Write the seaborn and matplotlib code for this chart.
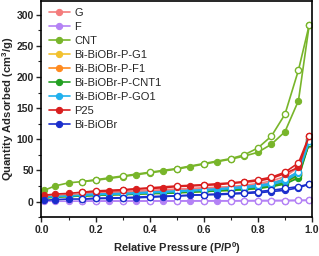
import numpy as np
import matplotlib
matplotlib.use('Agg')
import matplotlib.pyplot as plt
import seaborn as sns
from matplotlib.ticker import MultipleLocator

sns.set_style('ticks')
plt.rcParams['font.family'] = ['Liberation Sans', 'DejaVu Sans']
plt.rcParams['mathtext.fontset'] = 'custom'
plt.rcParams['mathtext.rm'] = 'Liberation Sans'
plt.rcParams['mathtext.bf'] = 'Liberation Sans:bold'

# 흡착(adsorption) / 탈착(desorption) 상대압력
p_ads = [0.01, 0.05, 0.10, 0.15, 0.20, 0.25, 0.30, 0.35, 0.40, 0.45, 0.50,
         0.55, 0.60, 0.65, 0.70, 0.75, 0.80, 0.85, 0.90, 0.95, 0.99]
p_des = [0.99, 0.95, 0.90, 0.85, 0.80, 0.75, 0.70, 0.60, 0.50, 0.40, 0.30, 0.20, 0.15]

names = ['G', 'F', 'CNT', 'Bi-BiOBr-P-G1', 'Bi-BiOBr-P-F1', 'Bi-BiOBr-P-CNT1',
         'Bi-BiOBr-P-GO1', 'P25', 'Bi-BiOBr']
colors = ['#F47C7C', '#B482F5', '#78B52A', '#F2C12E', '#FF8A1E', '#22A022',
          '#1FB0EE', '#D91E1E', '#1A2ECC']

g_ads = [8, 10, 11, 12, 13, 14, 15, 16, 17, 18, 19, 20, 21, 22, 23, 25, 27, 30, 36, 48, 92]
g_des = [92, 55, 40, 33, 29, 26, 24, 22, 20, 18, 16, 14, 13]
f_ads = [0.5, 0.5, 0.5, 0.6, 0.6, 0.7, 0.7, 0.8, 0.8, 0.9, 0.9, 1.0, 1.0, 1.1,
         1.1, 1.2, 1.3, 1.4, 1.5, 1.7, 2.0]
f_des = [2.0, 1.8, 1.6, 1.5, 1.4, 1.3, 1.2, 1.1, 1.0, 0.9, 0.8, 0.7, 0.6]
cnt_ads = [18, 25, 30, 32, 34, 37, 40, 43, 46, 49, 52, 56, 60, 64, 68, 73, 79, 92, 112, 162, 284]
cnt_des = [284, 211, 140, 105, 86, 75, 69, 61, 53, 47, 41, 35, 32]
g1_ads = [5, 7, 8, 9, 10, 11, 11, 12, 13, 13, 14, 15, 16, 17, 18, 19, 21, 24, 29, 40, 95]
g1_des = [95, 44, 32, 26, 23, 21, 19, 17, 15, 13, 12, 10, 9]
f1_ads = [6, 8, 9, 10, 11, 12, 12, 13, 14, 14, 15, 16, 17, 18, 19, 20, 22, 25, 30, 42, 100]
f1_des = [100, 46, 34, 28, 24, 22, 20, 18, 16, 14, 13, 11, 10]
cnt1_ads = [6, 7, 8, 9, 10, 11, 11, 12, 13, 13, 14, 15, 16, 17, 18, 19, 21, 24, 28, 38, 94]
cnt1_des = [94, 43, 31, 26, 23, 21, 19, 17, 15, 13, 12, 10, 9]
go1_ads = [7, 8, 9, 10, 11, 12, 12, 13, 14, 15, 16, 17, 18, 19, 21, 22, 24, 27, 33, 46, 97]
go1_des = [97, 48, 36, 29, 26, 24, 22, 19, 17, 15, 13, 12, 11]
p25_ads = [10, 12, 13, 15, 16, 17, 18, 20, 21, 22, 24, 25, 26, 27, 29, 31, 33, 37, 45, 55, 106]
p25_des = [106, 62, 47, 39, 35, 32, 30, 27, 25, 22, 19, 17, 15]
bi_ads = [2, 3, 4, 4, 5, 5, 6, 6, 7, 8, 9, 10, 11, 11, 12, 13, 14, 16, 18, 22, 28]
bi_des = [28, 24, 21, 18, 16, 14, 13, 11, 9, 8, 6, 5, 4]

ads = [g_ads, f_ads, cnt_ads, g1_ads, f1_ads, cnt1_ads, go1_ads, p25_ads, bi_ads]
des = [g_des, f_des, cnt_des, g1_des, f1_des, cnt1_des, go1_des, p25_des, bi_des]

fig = plt.figure(figsize=(3.19, 2.56), dpi=100)
ax = fig.add_axes([0.13, 0.152, 0.848, 0.844])

for name, c, ya, yd in zip(names, colors, ads, des):
    sns.lineplot(x=p_ads, y=ya, ax=ax, color=c, marker='o', markersize=4.5,
                 markeredgecolor=c, linewidth=1.2, sort=False, label=name)
    sns.lineplot(x=p_des, y=yd, ax=ax, color=c, marker='o', markersize=4.5,
                 markerfacecolor='white', markeredgecolor=c, markeredgewidth=1,
                 linewidth=1.2, sort=False)

ax.set_xlim(0, 1)
ax.set_ylim(-25, 322)
ax.xaxis.set_major_locator(MultipleLocator(0.2))
ax.xaxis.set_minor_locator(MultipleLocator(0.1))
ax.yaxis.set_major_locator(MultipleLocator(50))
ax.yaxis.set_minor_locator(MultipleLocator(25))
ax.set_xticks([0, 0.2, 0.4, 0.6, 0.8, 1.0])
ax.set_xticklabels(['0.0', '0.2', '0.4', '0.6', '0.8', '1.0'])
ax.tick_params(which='major', direction='out', length=3.5, width=1, labelsize=7.5, pad=2)
ax.tick_params(which='minor', direction='out', length=2, width=0.8)
for lab in ax.get_xticklabels() + ax.get_yticklabels():
    lab.set_fontweight('bold')
for sp in ax.spines.values():
    sp.set_visible(True)
    sp.set_color('black')
    sp.set_linewidth(1.2)

ax.set_xlabel(r'Relative Pressure (P/P$^\mathbf{0}$)', fontsize=8, fontweight='bold', labelpad=4)
ax.set_ylabel(r'Quantity Adsorbed (cm$^\mathbf{3}$/g)', fontsize=8.1, fontweight='bold')
ax.yaxis.set_label_coords(-0.095, 0.5)

leg = ax.legend(loc='upper left', frameon=False, fontsize=8, handlelength=1.9,
                handletextpad=0.4, labelspacing=0.36, borderaxespad=0.25,
                bbox_to_anchor=(0.0, 1.0))

fig.savefig('out.png', dpi=100)
